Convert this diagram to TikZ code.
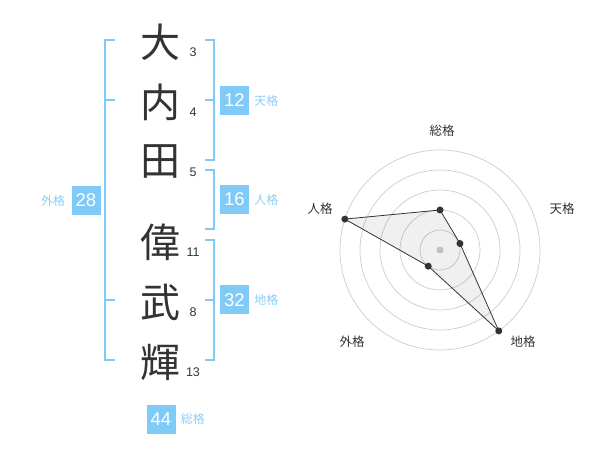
\documentclass[tikz,border=0pt]{standalone}
\usepackage{fontspec}
\setmainfont{Liberation Sans}
\newfontfamily\jp{Noto Sans CJK JP}
\usepackage{xcolor}
\usetikzlibrary{positioning}
\definecolor{kakublue}{RGB}{128,202,248}
\definecolor{kakutext}{RGB}{140,205,245}
\definecolor{inkgray}{RGB}{51,51,51}
\definecolor{ringgray}{RGB}{204,204,204}

\begin{document}
\begin{tikzpicture}[x=1pt, y=-1pt, node distance=60pt,
    kanji/.style = {font=\jp\fontsize{40}{40}\selectfont, text=inkgray, inner sep=0pt},
    stroke/.style = {font=\fontsize{12.5}{13}\selectfont, text=inkgray, inner sep=0pt},
    score/.style = {fill=kakublue, text=white, font=\fontsize{18.5}{19}\selectfont, minimum width=29pt, minimum height=29pt, inner sep=0pt},
    kaku/.style = {font=\jp\fontsize{12}{12}\selectfont, text=kakutext, inner sep=0pt},
    brace/.style = {draw=kakublue, line width=2pt},
    ring/.style = {draw=ringgray, line width=0.7pt},
    dot/.style = {circle, fill=inkgray, inner sep=0pt, minimum size=7pt},
    axis/.style = {font=\jp\fontsize{12.5}{13}\selectfont, text=inkgray, inner sep=0pt}]
        \useasboundingbox (0,0) rectangle (600,470);

        % name
        \node[kanji] (c1) at (160,42) {大};
        \node[kanji] (c2) [below of = c1] {内};
        \node[kanji] (c3) [below of = c2] {田};
        \node[kanji] (c4) [node distance=80pt, below of = c3] {偉};
        \node[kanji] (c5) [below of = c4] {武};
        \node[kanji] (c6) [below of = c5] {輝};

        \node[stroke] (s1) at (193,52) {3};
        \node[stroke] (s2) at (193,112) {4};
        \node[stroke] (s3) at (193,172) {5};
        \node[stroke] (s4) at (193,252) {11};
        \node[stroke] (s5) at (193,312) {8};
        \node[stroke] (s6) at (193,372) {13};

        % brackets
        \draw[brace] (115,40) -- (105,40) -- (105,360) -- (115,360);
        \draw[brace] (105,100) -- (115,100);
        \draw[brace] (105,300) -- (115,300);
        \draw[brace] (205,40) -- (214,40) -- (214,160) -- (205,160);
        \draw[brace] (205,100) -- (214,100);
        \draw[brace] (205,170) -- (214,170) -- (214,229) -- (205,229);
        \draw[brace] (205,240) -- (214,240) -- (214,360) -- (205,360);
        \draw[brace] (205,300) -- (214,300);

        % scores
        \node[score] (ten) at (234.5,100.5) {12};
        \node[score] (jin) at (234.5,199.5) {16};
        \node[score] (chi) at (234.5,300) {32};
        \node[score] (gai) at (86,200.5) {28};
        \node[score] (sou) at (161,419) {44};
        \node[kaku] (tenl) [right=5pt of ten] {天格};
        \node[kaku] (jinl) [right=5pt of jin] {人格};
        \node[kaku] (chil) [right=5pt of chi] {地格};
        \node[kaku] (gail) [left=6pt of gai] {外格};
        \node[kaku] (soul) [right=5pt of sou] {総格};

        % radar
        \begin{scope}[shift={(440,250)}]
            \foreach \r in {20,40,60,80,100}
                \draw[ring] (0,0) circle (\r pt);
            \fill[ringgray] (0,0) circle (3.5pt);
            \coordinate (q1) at (90:40pt);
            \coordinate (q2) at (18:21pt);
            \coordinate (q3) at (-54:100pt);
            \coordinate (q4) at (-126:20pt);
            \coordinate (q5) at (162:100pt);
            \draw[draw=inkgray, line width=0.8pt, fill=black, fill opacity=0.06] (q1) -- (q2) -- (q3) -- (q4) -- (q5) -- cycle;
            \node[dot] (p1) at (q1) {};
            \node[dot] (p2) at (q2) {};
            \node[dot] (p3) at (q3) {};
            \node[dot] (p4) at (q4) {};
            \node[dot] (p5) at (q5) {};
        \end{scope}

        \node[axis] (asou) at (442,131) {総格};
        \node[axis] (aten) at (562,209) {天格};
        \node[axis] (achi) at (523,342) {地格};
        \node[axis] (agai) at (352,342) {外格};
        \node[axis] (ajin) at (320,209) {人格};

    \end{tikzpicture}
\end{document}
